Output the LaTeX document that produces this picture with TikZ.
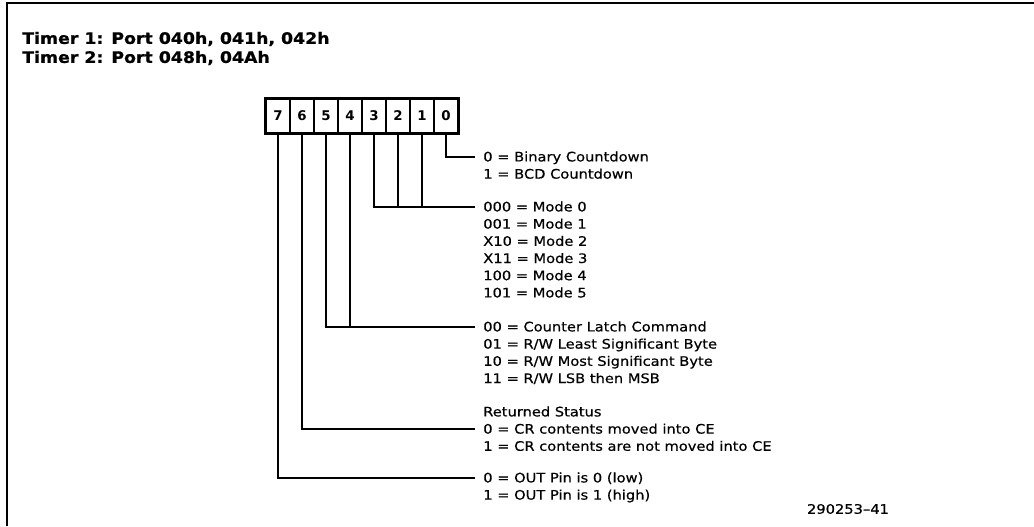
\documentclass[tikz,border=0pt]{standalone}
\usepackage{fontspec}
\setmainfont{DejaVu Sans}
\newfontfamily\labelfont{DejaVu Sans}[FakeStretch=1.12, FakeBold=0.5]
\newfontfamily\headfont{DejaVu Sans}[FakeStretch=1.1, FakeBold=0.8]
\tikzset{
  bitcell/.style={draw, line width=1.2pt, minimum width=0.6cm, minimum height=0.85cm, inner sep=0pt, font=\bfseries\fontsize{9.5}{10}\selectfont},
  txt/.style={anchor=west, inner xsep=0.2cm, inner ysep=0pt, text height=0.32cm, text depth=0.1cm, font=\labelfont\fontsize{9.3}{10}\selectfont},
  head/.style={anchor=west, inner sep=0pt, font=\headfont\bfseries\fontsize{11.2}{13}\selectfont},
  wire/.style={line width=1.4pt},
}
\begin{document}
\begin{tikzpicture}
  \useasboundingbox (0,0) rectangle (25.85,13.15);
  % frame
  \draw[line width=1.2pt] (0.175,0) -- (0.175,13.075) -- (25.85,13.075);
  % title
  \node[head] (title1) at (0.55,12.175) {Timer 1: Port 040h, 041h, 042h};
  \node[head] (title2) at (0.55,11.7) {Timer 2: Port 048h, 04Ah};
  % control word
  \foreach \b in {0,...,7}
    \node[bitcell] (b\b) at ({6.95+0.6*(7-\b)},10.25) {\b};
  \draw[line width=2pt] (b7.north west) rectangle (b0.south east);
  % field texts
  \node[txt] (bin0) at (11.875,9.225) {0 = Binary Countdown};
  \node[txt] (bin1) at (11.875,8.795) {1 = BCD Countdown};
  \node[txt] (mode0) at (11.875,7.975) {000 = Mode 0};
  \node[txt] (mode1) at (11.875,7.545) {001 = Mode 1};
  \node[txt] (mode2) at (11.875,7.115) {X10 = Mode 2};
  \node[txt] (mode3) at (11.875,6.685) {X11 = Mode 3};
  \node[txt] (mode4) at (11.875,6.255) {100 = Mode 4};
  \node[txt] (mode5) at (11.875,5.825) {101 = Mode 5};
  \node[txt] (rw0) at (11.875,4.975) {00 = Counter Latch Command};
  \node[txt] (rw1) at (11.875,4.545) {01 = R/W Least Significant Byte};
  \node[txt] (rw2) at (11.875,4.115) {10 = R/W Most Significant Byte};
  \node[txt] (rw3) at (11.875,3.685) {11 = R/W LSB then MSB};
  \node[txt] (stat) at (11.875,2.85) {Returned Status};
  \node[txt] (stat0) at (11.875,2.42) {0 = CR contents moved into CE};
  \node[txt] (stat1) at (11.875,1.99) {1 = CR contents are not moved into CE};
  \node[txt] (out0) at (11.875,1.2) {0 = OUT Pin is 0 (low)};
  \node[txt] (out1) at (11.875,0.77) {1 = OUT Pin is 1 (high)};
  \node[inner sep=0pt, font=\labelfont\fontsize{9.3}{10}\selectfont] (fignum) at (21.2,0.425) {290253–41};
  % connectors
  \draw[wire] (b0.south) |- (bin0.west);
  \draw[wire] (b3.south) |- (mode0.west);
  \draw[wire] (b2.south) -- (b2.south |- mode0.west);
  \draw[wire] (b1.south) -- (b1.south |- mode0.west);
  \draw[wire] (b5.south) |- (rw0.west);
  \draw[wire] (b4.south) -- (b4.south |- rw0.west);
  \draw[wire] (b6.south) |- (stat0.west);
  \draw[wire] (b7.south) |- (out0.west);
\end{tikzpicture}
\end{document}
